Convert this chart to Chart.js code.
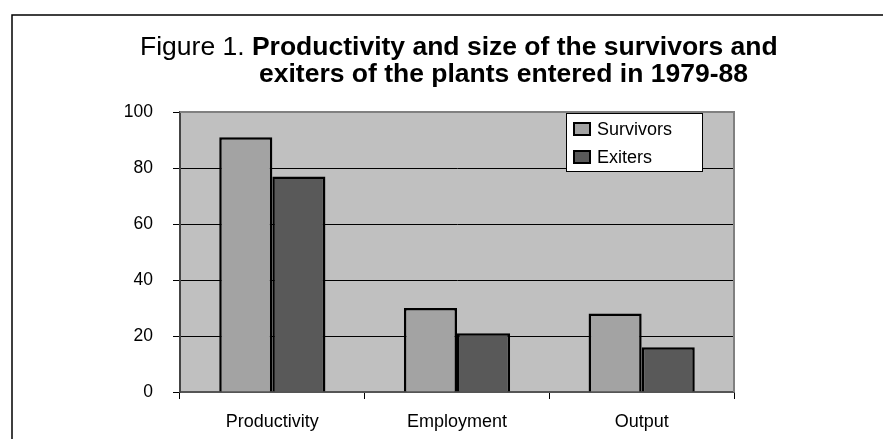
<!DOCTYPE html>
<html>
<head>
<meta charset="utf-8">
<script src="https://cdn.jsdelivr.net/npm/chart.js@4/dist/chart.umd.min.js"></script>
<style>
  html, body { margin: 0; padding: 0; background: #fff; }
  canvas { display: block; }
</style>
</head>
<body>
<canvas id="fig" width="883" height="439"></canvas>
<script>
// data
const categories = ['Productivity', 'Employment', 'Output'];
const survivors = [91, 30, 28];
const exiters = [77, 21, 16];
const yTicks = [0, 20, 40, 60, 80, 100];

const FONT = '"Liberation Sans", Arial, sans-serif';

// grey plot area, outer frame, title and the boxed legend
const decorations = {
  id: 'decorations',
  beforeDraw(chart) {
    const { ctx, chartArea: a } = chart;
    ctx.save();
    ctx.fillStyle = '#fff';
    ctx.fillRect(0, 0, chart.width, chart.height);
    ctx.fillStyle = '#c0c0c0';
    ctx.fillRect(a.left, a.top, a.right - a.left, a.bottom - a.top);

    // outer figure border (only left and top fall inside the picture)
    ctx.strokeStyle = '#000';
    ctx.lineWidth = 1.5;
    ctx.beginPath();
    ctx.moveTo(12, chart.height + 5);
    ctx.lineTo(12, 15);
    ctx.lineTo(chart.width + 5, 15);
    ctx.stroke();

    // title
    ctx.fillStyle = '#000';
    ctx.textBaseline = 'alphabetic';
    ctx.textAlign = 'left';
    ctx.font = '26.5px ' + FONT;
    const pre = 'Figure 1. ';
    ctx.fillText(pre, 140, 55);
    const preW = ctx.measureText(pre).width;
    ctx.font = 'bold 26.5px ' + FONT;
    ctx.fillText('Productivity and size of the survivors and', 140 + preW, 55);
    ctx.fillText('exiters of the plants entered in 1979-88', 259, 82);
    ctx.restore();
  },
  afterDatasetsDraw(chart) {
    const { ctx, chartArea: a } = chart;
    ctx.save();
    // top and right frame of the plot area
    ctx.strokeStyle = '#808080';
    ctx.lineWidth = 2;
    ctx.beginPath();
    ctx.moveTo(a.left, a.top);
    ctx.lineTo(a.right, a.top);
    ctx.lineTo(a.right, a.bottom);
    ctx.stroke();

    // legend
    const lx = 566, ly = 113, lw = 136, lh = 58;
    ctx.fillStyle = '#fff';
    ctx.fillRect(lx, ly, lw, lh);
    ctx.strokeStyle = '#000';
    ctx.lineWidth = 1;
    ctx.strokeRect(lx + 0.5, ly + 0.5, lw, lh);
    ctx.font = '18px ' + FONT;
    ctx.textBaseline = 'middle';
    chart.data.datasets.forEach((ds, i) => {
      const cy = ly + 16 + i * 28;
      ctx.fillStyle = ds.backgroundColor;
      ctx.fillRect(574, cy - 6, 16, 12);
      ctx.lineWidth = 2;
      ctx.strokeStyle = '#000';
      ctx.strokeRect(574, cy - 6, 16, 12);
      ctx.fillStyle = '#000';
      ctx.fillText(ds.label, 597, cy + 1);
    });
    ctx.restore();
  }
};

new Chart(document.getElementById('fig'), {
  type: 'bar',
  data: {
    labels: categories,
    datasets: [
      { label: 'Survivors', data: survivors, backgroundColor: '#a3a3a3', borderColor: '#000', borderWidth: 2.5 },
      { label: 'Exiters', data: exiters, backgroundColor: '#595959', borderColor: '#000', borderWidth: 2.5 }
    ]
  },
  options: {
    responsive: false,
    animation: false,
    layout: { padding: { left: 0, top: 112, right: 149, bottom: 0 } },
    plugins: {
      legend: { display: false },
      title: { display: false },
      tooltip: { enabled: false }
    },
    datasets: {
      bar: { barPercentage: 1, categoryPercentage: 0.575 }
    },
    scales: {
      x: {
        grid: { offset: true, drawOnChartArea: false, tickLength: 7, tickColor: '#000' },
        border: { color: '#555', width: 2 },
        ticks: { color: '#000', font: { family: FONT, size: 18 }, padding: 12 },
        afterFit(scale) { scale.height = 47; }
      },
      y: {
        min: 0,
        max: 100,
        afterBuildTicks(scale) { scale.ticks = yTicks.map(v => ({ value: v })); },
        grid: {
          color: c => (c.tick && c.tick.value === 100) ? '#808080' : '#000',
          lineWidth: 1,
          tickLength: 7,
          tickColor: '#000'
        },
        border: { color: '#444', width: 2 },
        ticks: { color: '#000', font: { family: FONT, size: 17.5 }, padding: 20 },
        afterFit(scale) { scale.width = 180; }
      }
    }
  },
  plugins: [decorations]
});
</script>
</body>
</html>
